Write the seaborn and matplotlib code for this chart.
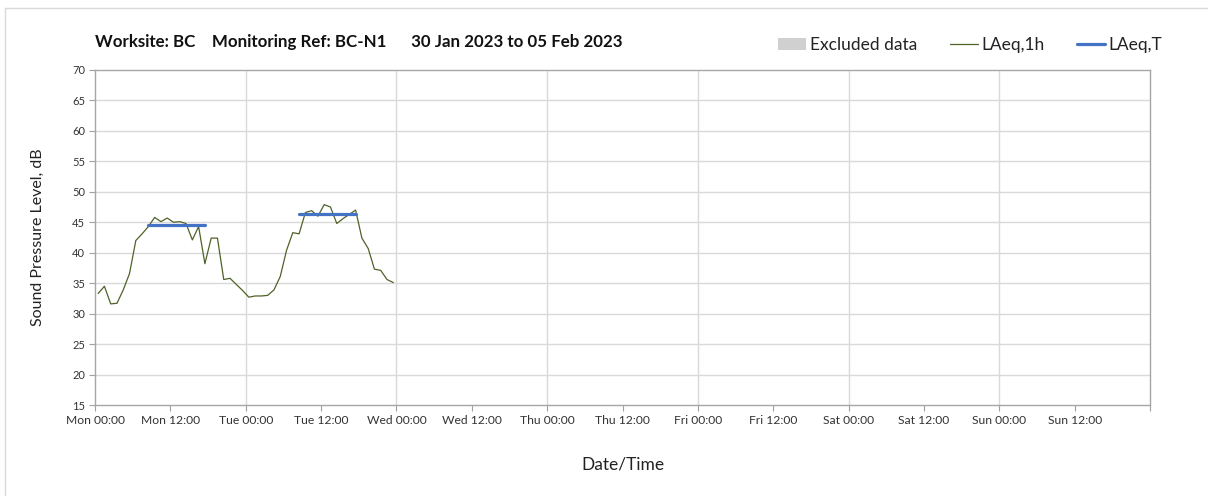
import numpy as np
import pandas as pd
import matplotlib
matplotlib.use("Agg")
import matplotlib.pyplot as plt
import seaborn as sns
from matplotlib.lines import Line2D
from matplotlib.patches import Patch, Rectangle

# ── Data ────────────────────────────────────────────────
# hourly LAeq,1h, plotted at the middle of each hour (hours since Mon 00:00)
hours = np.arange(48) + 0.5
laeq_1h = [33.3, 34.5, 31.6, 31.7, 33.9, 36.6, 42.0, 43.1,
           44.3, 45.8, 45.1, 45.7, 45.0, 45.1, 44.8, 42.1,
           44.3, 38.2, 42.4, 42.4, 35.6, 35.8, 34.8, 33.8,
           32.7, 32.9, 32.9, 33.0, 33.9, 36.1, 40.4, 43.3,
           43.1, 46.6, 46.9, 46.0, 47.9, 47.5, 44.8, 45.6,
           46.3, 47.0, 42.4, 40.7, 37.3, 37.1, 35.6, 35.1]

# daytime LAeq,T periods
period_start = [8.5, 32.5]
period_end   = [17.5, 41.5]
period_level = [44.5, 46.4]

days = ["Mon", "Tue", "Wed", "Thu", "Fri", "Sat", "Sun"]
tick_labels = [f"{d} {t}" for d in days for t in ["00:00", "12:00"]] + [""]
title = "Worksite: BC    Monitoring Ref: BC-N1      30 Jan 2023 to 05 Feb 2023"
# ────────────────────────────────────────────────────────

sns.set_style("white")
plt.rcParams["font.family"] = ["Lato", "DejaVu Sans"]

df_1h = pd.DataFrame({"hour": hours, "level": laeq_1h})
df_t = pd.DataFrame({
    "hour": period_start + period_end,
    "level": period_level + period_level,
    "period": list(range(len(period_start))) * 2,
})

fig = plt.figure(figsize=(12.08, 4.96), dpi=100)
ax = fig.add_axes([95 / 1208, 1 - 405 / 496, (1150 - 95) / 1208, (405 - 70) / 496])

# chart-area border
fig.patches.append(Rectangle((5 / 1208, -0.1), 1.1, 1 - 8 / 496 + 0.1,
                             transform=fig.transFigure, fill=False,
                             edgecolor="#d9d9d9", lw=1.0))

sns.lineplot(data=df_1h, x="hour", y="level", color="#4f6228", lw=0.9, ax=ax)
sns.lineplot(data=df_t, x="hour", y="level", units="period", estimator=None,
             color="#4472c4", lw=2.3, ax=ax)

ax.set_xlim(0, 168)
ax.set_ylim(15, 70)
ax.set_xticks(np.arange(0, 169, 12))
ax.set_xticklabels(tick_labels, fontsize=8.7, color="#333333")
ax.set_yticks(np.arange(15, 71, 5))
ax.set_yticklabels([str(v) for v in range(15, 71, 5)], fontsize=8, color="#333333")
ax.tick_params(axis="both", direction="out", length=4, width=0.8,
               color="#a0a0a0", bottom=True, left=True, pad=3)

for y in range(20, 70, 5):
    ax.axhline(y, color="#d9d9d9", lw=1.0, zorder=0)
for x in range(24, 168, 24):
    ax.axvline(x, color="#d9d9d9", lw=1.0, zorder=0)
for s in ax.spines.values():
    s.set_color("#a6a6a6")
    s.set_linewidth(1.0)

ax.set_xlabel("Date/Time", fontsize=12.5, color="#222222", labelpad=22)
ax.set_ylabel("Sound Pressure Level, dB", fontsize=11.5, color="#222222", labelpad=20)

fig.text(95 / 1208, 1 - 42 / 496, title, fontsize=12.2, fontweight="bold",
         va="center", ha="left", color="#111111")

handles = [
    Patch(facecolor="#d0d0d0", edgecolor="none"),
    Line2D([0], [0], color="#4f6228", lw=0.9),
    Line2D([0], [0], color="#4472c4", lw=2.3),
]
fig.legend(handles, ["Excluded data", "LAeq,1h", "LAeq,T"], loc="center right",
           bbox_to_anchor=(1178 / 1208, 1 - 45 / 496), ncol=3, frameon=False,
           fontsize=12.5, handlelength=1.6, handletextpad=0.2, columnspacing=1.9,
           labelcolor="#222222")

plt.savefig("out.png", dpi=100)
plt.close()
